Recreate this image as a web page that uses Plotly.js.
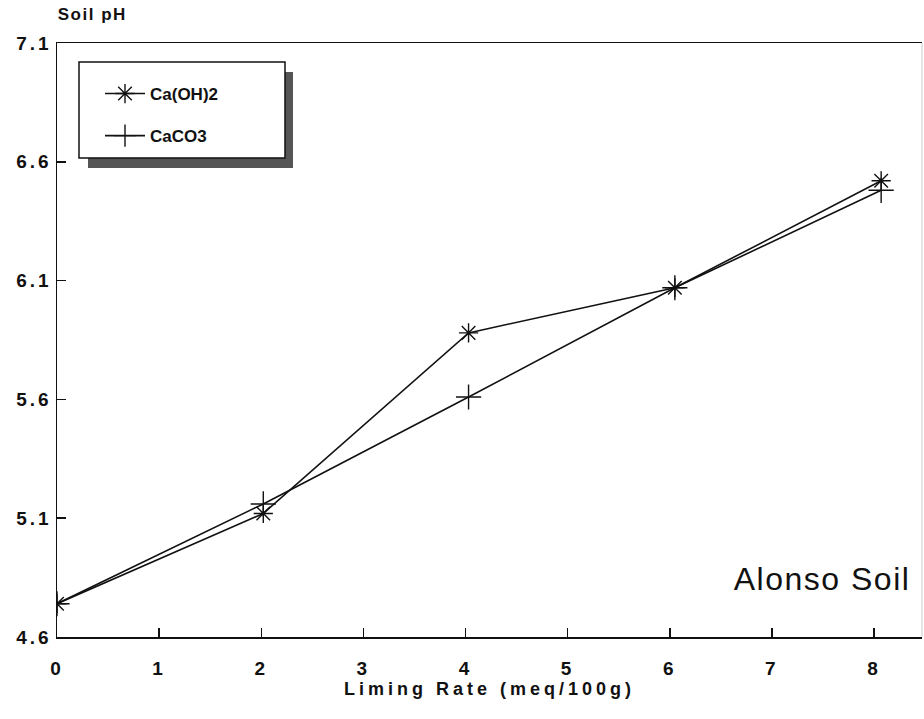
<!DOCTYPE html>
<html>
<head>
<meta charset="utf-8">
<script src="https://cdn.plot.ly/plotly-3.0.1.min.js"></script>
<style>
html,body{margin:0;padding:0;background:#fff;}
#chart{width:924px;height:719px;}
#chart .xtick text, #chart .ytick text{letter-spacing:3px;}
#chart .xtitle{letter-spacing:4px;}
#chart .annotation-text{letter-spacing:1.5px;}
</style>
</head>
<body>
<div id="chart"></div>
<script>
const limingRate = [0, 2.02, 4.03, 6.05, 8.07];
const caOH2 = [4.74, 5.12, 5.88, 6.07, 6.52];
const caCO3 = [4.74, 5.16, 5.61, 6.07, 6.48];
const seriesNames = ['Ca(OH)2', 'CaCO3'];
const yTicks = [4.6, 5.1, 5.6, 6.1, 6.6, 7.1];
const xTicks = [0, 1, 2, 3, 4, 5, 6, 7, 8];

const L = 57, R = 2, T = 43, B = 82, W = 924, H = 719;
const pw = W - L - R, ph = H - T - B;
const px = v => (v - L) / pw;
const py = v => (H - B - v) / ph;

const FONT = 'Liberation Sans, Arial, sans-serif';

const traces = [
  {x: limingRate, y: caOH2, name: seriesNames[0], mode: 'lines+markers', legendgroup: 'a',
   line: {color: '#111', width: 1.6},
   marker: {symbol: 'asterisk-open', size: 16, color: '#111', line: {color: '#111', width: 1.4}}},
  {x: limingRate, y: caCO3, name: seriesNames[1], mode: 'lines+markers', legendgroup: 'b',
   line: {color: '#111', width: 1.6},
   marker: {symbol: 'cross-thin-open', size: 18, color: '#111', line: {color: '#111', width: 1.4}}}
];

const tickFont = {family: FONT, size: 19, color: '#111', weight: 'bold'};

const layout = {
  width: W, height: H,
  margin: {l: L, r: R, t: T, b: B, pad: 0},
  paper_bgcolor: '#fff', plot_bgcolor: '#fff',
  showlegend: true,
  legend: {
    x: px(100), y: py(76), xanchor: 'left', yanchor: 'top',
    bgcolor: 'rgba(0,0,0,0)', borderwidth: 0,
    font: {family: FONT, size: 17, color: '#111', weight: 'bold'},
    traceorder: 'grouped', tracegroupgap: 17, itemwidth: 40
  },
  xaxis: {
    range: [0, 8.47], tickvals: xTicks, ticktext: xTicks.map(String),
    ticks: 'inside', ticklen: 9, tickcolor: '#111', tickwidth: 1.5,
    ticklabelstandoff: 14,
    showline: true, linecolor: '#111', linewidth: 1.5, mirror: true,
    showgrid: false, zeroline: false, tickfont: tickFont,
    title: {text: 'Liming Rate (meq/100g)', font: {family: FONT, size: 18, color: '#111', weight: 'bold'}, standoff: 4}
  },
  yaxis: {
    range: [4.6, 7.1], tickvals: yTicks, ticktext: yTicks.map(v => v.toFixed(1)),
    ticks: 'inside', ticklen: 9, tickcolor: '#111', tickwidth: 1.5,
    showline: true, linecolor: '#111', linewidth: 1.5, mirror: false,
    showgrid: false, zeroline: false, tickfont: tickFont
  },
  shapes: [
    {type: 'rect', xref: 'paper', yref: 'paper', x0: px(88), x1: px(293), y0: py(168), y1: py(72),
     fillcolor: '#555', line: {width: 0}, layer: 'above'},
    {type: 'rect', xref: 'paper', yref: 'paper', x0: px(79), x1: px(285), y0: py(158), y1: py(62),
     fillcolor: '#fff', line: {color: '#111', width: 1.5}, layer: 'above'},
    {type: 'line', xref: 'paper', yref: 'paper', x0: 1, x1: 1, y0: 0, y1: 1,
     line: {color: '#ccc', width: 1}}
  ],
  annotations: [
    {text: 'Soil pH', xref: 'paper', yref: 'paper', x: px(61), y: py(15), xanchor: 'left', yanchor: 'middle',
     showarrow: false, font: {family: FONT, size: 17, color: '#111', weight: 'bold'}},
    {text: 'Alonso Soil', xref: 'paper', yref: 'paper', x: px(904), y: py(579), xanchor: 'right', yanchor: 'middle',
     showarrow: false, font: {family: FONT, size: 32, color: '#111'}}
  ]
};

Plotly.newPlot('chart', traces, layout, {displayModeBar: false, staticPlot: true});
</script>
</body>
</html>
